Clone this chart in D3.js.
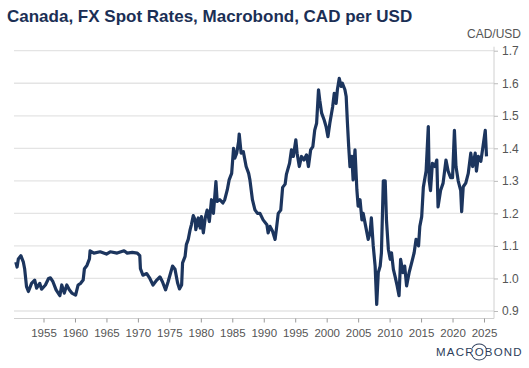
<!DOCTYPE html>
<html>
<head>
<meta charset="utf-8">
<script src="https://cdn.jsdelivr.net/npm/d3@7"></script>
<style>
  body { margin: 0; background: #fff; }
  svg { display: block; font-family: "Liberation Sans", Arial, sans-serif; }
  .title { font-weight: bold; fill: #1b2f55; }
  .tick text { fill: #555; }
</style>
</head>
<body>
<div id="chart"></div>
<script>
// Canada, FX spot CAD per USD - letto a occhio dal grafico
const years = [
  1950.6, 1950.8, 1951.0, 1951.4, 1951.8, 1952.0, 1952.3, 1952.6, 1953.1, 1953.6,
  1953.9, 1954.4, 1954.7, 1955.3, 1955.8, 1956.1, 1956.5, 1957.0, 1957.6, 1957.9,
  1958.3, 1958.7, 1959.1, 1959.5, 1960.1, 1960.5, 1960.9, 1961.3, 1961.5, 1961.9,
  1962.3, 1962.4, 1963.0, 1964.0, 1965.0, 1965.6, 1966.7, 1967.8, 1968.3, 1969.1,
  1969.9, 1970.3, 1970.4, 1970.8, 1971.4, 1971.9, 1972.4, 1973.0, 1973.5, 1973.9,
  1974.4, 1974.8, 1975.5, 1975.9, 1976.3, 1976.6, 1976.95, 1977.1, 1977.5, 1977.7,
  1978.0, 1978.3, 1978.5, 1978.8, 1979.1, 1979.2, 1979.6, 1979.9, 1980.1, 1980.4,
  1980.7, 1981.0, 1981.35, 1981.7, 1982.0, 1982.4, 1982.6, 1983.0, 1983.5, 1983.8,
  1984.2, 1984.5, 1984.9, 1985.2, 1985.4, 1985.7, 1986.0, 1986.1, 1986.4, 1986.75,
  1987.2, 1987.6, 1987.8, 1988.2, 1988.6, 1989.0, 1989.4, 1989.9, 1990.5, 1990.7,
  1991.0, 1991.4, 1991.8, 1992.0, 1992.3, 1992.7, 1993.0, 1993.4, 1993.6, 1994.1,
  1994.4, 1994.7, 1995.1, 1995.3, 1995.65, 1996.0, 1996.4, 1996.8, 1997.1, 1997.45,
  1997.8, 1998.1, 1998.4, 1998.7, 1998.9, 1999.2, 1999.6, 1999.9, 2000.2, 2000.5,
  2000.95, 2001.2, 2001.5, 2001.7, 2002.0, 2002.3, 2002.5, 2002.9, 2003.1, 2003.3,
  2003.5, 2003.7, 2004.0, 2004.2, 2004.5, 2004.8, 2005.0, 2005.3, 2005.6, 2005.8,
  2006.2, 2006.6, 2006.9, 2007.1, 2007.4, 2007.7, 2007.95, 2008.2, 2008.5, 2008.7,
  2009.0, 2009.3, 2009.5, 2009.8, 2010.1, 2010.3, 2010.6, 2010.85, 2011.2, 2011.5,
  2011.75, 2012.1, 2012.4, 2012.7, 2013.1, 2013.5, 2013.9, 2014.2, 2014.6, 2014.8,
  2015.1, 2015.36, 2015.8, 2016.15, 2016.3, 2016.5, 2016.8, 2017.2, 2017.5, 2017.7,
  2018.1, 2018.5, 2018.96, 2019.3, 2019.7, 2020.0, 2020.3, 2020.55, 2020.9, 2021.3,
  2021.45, 2021.7, 2022.1, 2022.5, 2022.9, 2023.2, 2023.6, 2023.8, 2024.1, 2024.5,
  2024.8, 2025.2, 2025.4
];
const rates = [
  1.050, 1.035, 1.060, 1.070, 1.050, 1.030, 0.975, 0.960, 0.985, 0.995,
  0.970, 0.985, 0.967, 0.980, 1.000, 1.002, 0.990, 0.965, 0.947, 0.980,
  0.955, 0.980, 0.965, 0.955, 0.949, 0.980, 0.985, 0.995, 1.030, 1.040,
  1.060, 1.085, 1.078, 1.082, 1.075, 1.082, 1.078, 1.085, 1.078, 1.080,
  1.078, 1.070, 1.030, 1.010, 1.015, 1.000, 0.980, 0.995, 1.005, 0.990,
  0.965, 0.990, 1.038, 1.028, 0.987, 0.968, 0.980, 1.048, 1.068, 1.104,
  1.120, 1.150, 1.165, 1.193, 1.180, 1.150, 1.186, 1.155, 1.190, 1.140,
  1.186, 1.210, 1.175, 1.242, 1.200, 1.298, 1.237, 1.242, 1.232, 1.242,
  1.272, 1.303, 1.323, 1.400, 1.370, 1.385, 1.420, 1.444, 1.385, 1.390,
  1.344, 1.323, 1.303, 1.242, 1.211, 1.200, 1.200, 1.180, 1.165, 1.140,
  1.160, 1.145, 1.120, 1.150, 1.200, 1.210, 1.280, 1.290, 1.320, 1.354,
  1.395, 1.375, 1.426, 1.385, 1.344, 1.375, 1.364, 1.380, 1.344, 1.395,
  1.405, 1.456, 1.477, 1.580, 1.548, 1.508, 1.487, 1.467, 1.436, 1.477,
  1.528, 1.569, 1.538, 1.580, 1.615, 1.590, 1.600, 1.580, 1.559, 1.477,
  1.405, 1.344, 1.375, 1.303, 1.395, 1.272, 1.222, 1.242, 1.180, 1.200,
  1.160, 1.120, 1.140, 1.186, 1.100, 1.038, 0.920, 1.018, 1.038, 1.079,
  1.300, 1.300, 1.180, 1.090, 1.059, 1.079, 1.028, 1.008, 0.977, 0.947,
  1.059, 1.018, 1.038, 0.977, 1.018, 1.048, 1.079, 1.120, 1.100, 1.160,
  1.190, 1.280, 1.330, 1.467, 1.300, 1.270, 1.354, 1.344, 1.364, 1.220,
  1.270, 1.293, 1.364, 1.330, 1.310, 1.310, 1.455, 1.344, 1.300, 1.270,
  1.205, 1.282, 1.293, 1.323, 1.385, 1.344, 1.385, 1.330, 1.375, 1.360,
  1.400, 1.455, 1.375
];
const xTicks = [1955, 1960, 1965, 1970, 1975, 1980, 1985, 1990, 1995, 2000, 2005, 2010, 2015, 2020, 2025];
const yTicks = [0.9, 1.0, 1.1, 1.2, 1.3, 1.4, 1.5, 1.6, 1.7];

const W = 529, H = 368;
const PLOT = { left: 14, right: 494, top: 50.7, bottom: 311 };
const AXIS_Y = 318.5;   // linea asse x

const svg = d3.select('#chart').append('svg')
  .attr('width', W)
  .attr('height', H);

const x = d3.scaleLinear().domain([1950.31, 2026.59]).range([PLOT.left, PLOT.right]);
const y = d3.scaleLinear().domain([0.9, 1.7]).range([PLOT.bottom, PLOT.top]);

// Titolo
svg.append('text')
  .attr('class', 'title')
  .attr('x', 7)
  .attr('y', 22)
  .style('font-size', '17px')
  .text('Canada, FX Spot Rates, Macrobond, CAD per USD');

// Unita
svg.append('text')
  .attr('x', 521)
  .attr('y', 38)
  .attr('text-anchor', 'end')
  .style('font-size', '12px')
  .attr('fill', '#555')
  .text('CAD/USD');

// Griglia orizzontale
svg.append('g')
  .selectAll('line')
  .data(yTicks)
  .enter()
  .append('line')
  .attr('x1', PLOT.left)
  .attr('x2', PLOT.right)
  .attr('y1', d => y(d))
  .attr('y2', d => y(d))
  .attr('stroke', '#e4e4e4')
  .attr('stroke-width', 1.3);

// Asse y a destra
const yAxis = svg.append('g')
  .attr('transform', `translate(${PLOT.right},0)`)
  .call(d3.axisRight(y).tickValues(yTicks).tickSize(4).tickPadding(4).tickFormat(d3.format('.1f')));
yAxis.select('.domain').attr('d', `M0,${PLOT.top - 4}V${AXIS_Y}`).attr('stroke', '#d0d0d0');
yAxis.selectAll('.tick line').attr('stroke', '#bbb');
yAxis.selectAll('text').style('font-size', '12px').style('font-family', '"Liberation Sans", Arial, sans-serif');

// Asse x
const xAxis = svg.append('g')
  .attr('transform', `translate(0,${AXIS_Y})`)
  .call(d3.axisBottom(x).tickValues(xTicks).tickSize(4).tickPadding(6).tickFormat(d3.format('d')));
xAxis.select('.domain').attr('d', `M${PLOT.left},0H${PLOT.right}`).attr('stroke', '#d0d0d0');
xAxis.selectAll('.tick line').attr('stroke', '#999');
xAxis.selectAll('text').style('font-size', '11.5px').style('font-family', '"Liberation Sans", Arial, sans-serif');

// Serie
const line = d3.line()
  .x((d, i) => x(years[i]))
  .y(d => y(d));

svg.append('path')
  .datum(rates)
  .attr('d', line)
  .attr('fill', 'none')
  .attr('stroke', '#1c355e')
  .attr('stroke-width', 3.2)
  .attr('stroke-linejoin', 'round');

// Logo
const logo = svg.append('text')
  .attr('x', 436)
  .attr('y', 356)
  .style('font-size', '11.5px')
  .style('letter-spacing', '1.2px')
  .attr('fill', '#2d3d5a')
  .text('MACROBOND');

// anello attorno alla O
const o = logo.node();
const ox = o.getStartPositionOfChar(4).x + o.getExtentOfChar(4).width / 2 - 0.6;
const oy = 352;
const arcR = 7.5;
svg.append('path')
  .attr('d', d3.arc()({ innerRadius: arcR, outerRadius: arcR + 0.9, startAngle: -1.1, endAngle: 1.1 }))
  .attr('transform', `translate(${ox},${oy})`)
  .attr('fill', '#2d3d5a');
svg.append('path')
  .attr('d', d3.arc()({ innerRadius: arcR, outerRadius: arcR + 0.9, startAngle: Math.PI - 1.1, endAngle: Math.PI + 1.1 }))
  .attr('transform', `translate(${ox},${oy})`)
  .attr('fill', '#2d3d5a');
</script>
</body>
</html>
